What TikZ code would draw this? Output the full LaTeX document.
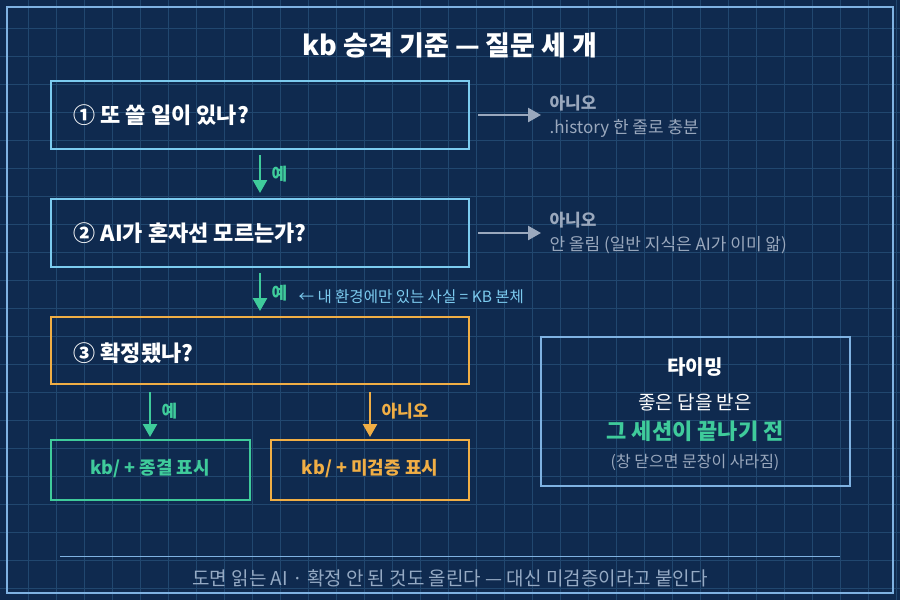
\documentclass[tikz,border=0pt]{standalone}
\usepackage{fontspec}
\setmainfont{Noto Sans CJK KR}
\usetikzlibrary{arrows.meta}
\definecolor{bg}{HTML}{0F2A4F}
\definecolor{gridc}{HTML}{21476F}
\definecolor{frame}{HTML}{7FB2E2}
\definecolor{cyanb}{HTML}{7CCBEF}
\definecolor{grn}{HTML}{3FCB9B}
\definecolor{org}{HTML}{F0AE45}
\definecolor{gry}{HTML}{9AA8BD}
\begin{document}
\begin{tikzpicture}[x=1pt,y=-1pt,
 box/.style={draw,line width=2.5pt},
 q/.style={anchor=west,text=white,font=\fontsize{22}{22}\selectfont\bfseries},
 arr/.style={line width=2.5pt,-{Triangle[length=13pt,width=14pt]}},
 lbl/.style={anchor=west,font=\fontsize{17}{17}\selectfont\bfseries}]
\fill[bg] (0,0) rectangle (900,600);
\useasboundingbox (0,0) rectangle (900,600);
\foreach \i in {28,56,...,896} {\draw[gridc,line width=0.8pt] (\i,0) -- (\i,600);}
\foreach \i in {28,56,...,588} {\draw[gridc,line width=0.8pt] (0,\i) -- (900,\i);}
\draw[frame,line width=2pt] (7,7) rectangle (893,593);
\node[text=white,font=\fontsize{27}{27}\selectfont\bfseries] (title) at (450,45) {kb 승격 기준 — 질문 세 개};
% boxes
\draw[box,cyanb] (51,81) rectangle (469,149);
\node[q] (t1) at (70,115) {① 또 쓸 일이 있나?};
\draw[box,cyanb] (51,199) rectangle (469,267);
\node[q] (t2) at (70,233) {② AI가 혼자선 모르는가?};
\draw[box,org] (51,317) rectangle (469,384);
\node[q] (t3) at (70,353) {③ 확정됐나?};
\draw[box,grn,line width=2pt] (51,440) rectangle (250,500);
\node[text=grn,font=\fontsize{18}{18}\selectfont\bfseries] (r1) at (150,469) {kb/ + 종결 표시};
\draw[box,org,line width=2pt] (271,440) rectangle (469,500);
\node[text=org,font=\fontsize{18}{18}\selectfont\bfseries] (r2) at (370,469) {kb/ + 미검증 표시};
% side arrows
\coordinate (a1s) at (478,115); \coordinate (a1e) at (541,115);
\draw[arr,gry] (a1s) -- (a1e);
\node[lbl,text=gry] (n1) at (546,103) {아니오};
\node[anchor=west,text=gry,font=\fontsize{17}{17}\selectfont] (n1b) at (546,128) {.history 한 줄로 충분};
\coordinate (a2s) at (478,233); \coordinate (a2e) at (541,233);
\draw[arr,gry] (a2s) -- (a2e);
\node[lbl,text=gry] (n2) at (546,220) {아니오};
\node[anchor=west,text=gry,font=\fontsize{17}{17}\selectfont] (n2b) at (546,245) {안 올림 (일반 지식은 AI가 이미 앎)};
% down arrows
\coordinate (d1s) at (260,155); \coordinate (d1e) at (260,193);
\draw[arr,grn] (d1s) -- (d1e);
\node[lbl,text=grn] (y1) at (268,174) {예};
\coordinate (d2s) at (260,273); \coordinate (d2e) at (260,311);
\draw[arr,grn] (d2s) -- (d2e);
\node[lbl,text=grn] (y2) at (268,293) {예};
\node[anchor=west,text=cyanb,font=\fontsize{15.5}{15.5}\selectfont] (note) at (295,297) {← 내 환경에만 있는 사실 = KB 본체};
\coordinate (d3s) at (150,392); \coordinate (d3e) at (150,437);
\draw[arr,grn] (d3s) -- (d3e);
\node[lbl,text=grn] (y3) at (158,411) {예};
\coordinate (d4s) at (370,392); \coordinate (d4e) at (370,437);
\draw[arr,org] (d4s) -- (d4e);
\node[lbl,text=org] (no3) at (378,411) {아니오};
% timing box
\draw[frame,line width=2pt] (541,337) rectangle (850,486);
\node[text=white,font=\fontsize{20}{20}\selectfont\bfseries] (tm) at (695,367) {타이밍};
\node[text=white,font=\fontsize{19}{19}\selectfont] (tm2) at (695,402) {좋은 답을 받은};
\node[text=grn,font=\fontsize{22}{22}\selectfont\bfseries] (tm3) at (695,431) {그 세션이 끝나기 전};
\node[text=gry,font=\fontsize{16}{16}\selectfont] (tm4) at (695,462) {(창 닫으면 문장이 사라짐)};
% footer
\draw[frame,line width=1pt] (60,556) -- (840,556);
\node[text=gry!80!frame,font=\fontsize{19}{19}\selectfont] (foot) at (450,578) {도면 읽는 AI · 확정 안 된 것도 올린다 — 대신 미검증이라고 붙인다};
\end{tikzpicture}
\end{document}
